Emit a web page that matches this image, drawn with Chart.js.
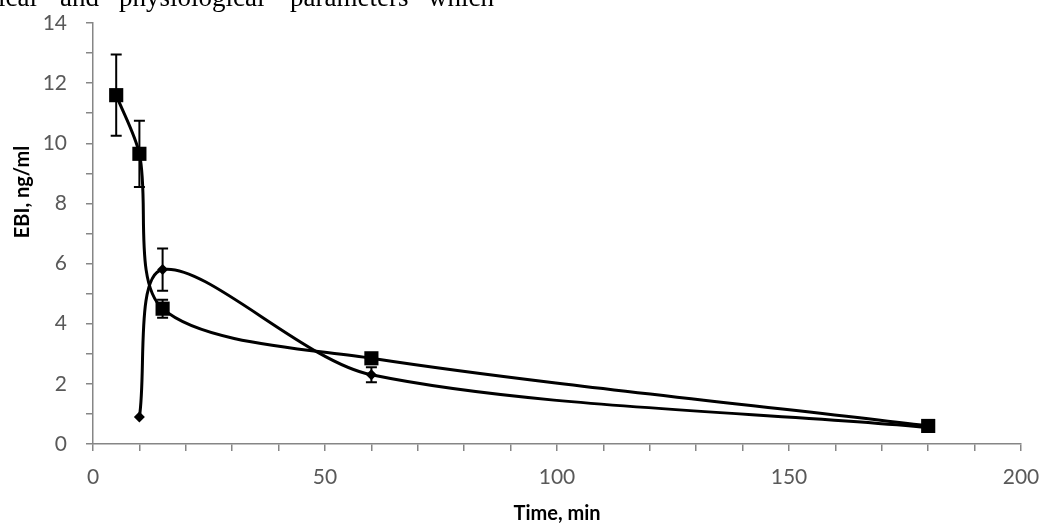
<!DOCTYPE html>
<html>
<head>
<meta charset="utf-8">
<script src="https://cdn.jsdelivr.net/npm/chart.js@4.4.1/dist/chart.umd.min.js"></script>
<style>
    html, body { margin: 0; padding: 0; background: #fff; overflow: hidden; }
    #wrap { position: relative; width: 1047px; height: 526px; }
    #pkChart { position: absolute; left: 0; top: 0; }
    #cut { position: absolute; left: 0; top: -16px; font: 27px "Liberation Serif", serif; color: #000; line-height: 1; }
    #cut span { position: absolute; top: 0; white-space: nowrap; }
</style>
</head>
<body>
<div id="wrap">
    <canvas id="pkChart" width="1047" height="526"></canvas>
    <div id="cut">
        <span style="left:-2px">ical</span>
        <span style="left:60px">and</span>
        <span style="left:119px">physiological</span>
        <span style="left:290px">parameters</span>
        <span style="left:428px">which</span>
    </div>
</div>
<script>
    var xTitle = 'Time, min';
    var yTitle = 'EBI, ng/ml';

    // series 1 (squares)
    var squareTimes = [5, 10, 15, 60, 180];
    var squareVals = [11.6, 9.65, 4.5, 2.85, 0.6];
    var squareErr = [1.35, 1.1, 0.3, 0.15, 0.05];

    // series 2 (diamonds)
    var diamondTimes = [10, 15, 60, 180];
    var diamondVals = [0.9, 5.8, 2.3, 0.55];
    var diamondErr = [0, 0.7, 0.25, 0.05];

    var xMin = 0, xMax = 200, xStep = 10, xLabelEvery = 50;
    var yMin = 0, yMax = 14, yStep = 1, yLabelEvery = 2;

    function toPoints(xs, ys) {
        var pts = [];
        for (var i = 0; i < xs.length; i++) {
            pts.push({ x: xs[i], y: ys[i] });
        }
        return pts;
    }

    var errorBars = {
        id: 'errorBars',
        afterDatasetsDraw: function(chart) {
            var ctx = chart.ctx;
            var yScale = chart.scales.y;
            ctx.save();
            ctx.strokeStyle = '#000';
            ctx.lineWidth = 2;
            chart.data.datasets.forEach(function(ds, i) {
                var meta = chart.getDatasetMeta(i);
                meta.data.forEach(function(pt, j) {
                    var e = ds.errors[j];
                    if (!e) return;
                    var v = ds.data[j].y;
                    var top = yScale.getPixelForValue(v + e);
                    var bot = yScale.getPixelForValue(v - e);
                    ctx.beginPath();
                    ctx.moveTo(pt.x, top); ctx.lineTo(pt.x, bot);
                    ctx.moveTo(pt.x - 5.5, top); ctx.lineTo(pt.x + 5.5, top);
                    ctx.moveTo(pt.x - 5.5, bot); ctx.lineTo(pt.x + 5.5, bot);
                    ctx.stroke();
                });
            });
            ctx.restore();
        }
    };

    var yTitlePlugin = {
        id: 'yTitle',
        afterDraw: function(chart) {
            var ctx = chart.ctx;
            ctx.save();
            ctx.translate(23, 192);
            ctx.rotate(-Math.PI / 2);
            ctx.font = 'bold 20px Lato';
            ctx.fillStyle = '#000';
            ctx.textAlign = 'center';
            ctx.textBaseline = 'middle';
            ctx.fillText(yTitle, 0, 0);
            ctx.restore();
        }
    };

    var ctx = document.getElementById('pkChart').getContext('2d');
    var pkChart = new Chart(ctx, {
        type: 'line',
        data: {
            datasets: [{
                label: 'squares',
                data: toPoints(squareTimes, squareVals),
                errors: squareErr,
                borderColor: '#000',
                backgroundColor: '#000',
                borderWidth: 3,
                tension: 0.3,
                pointStyle: 'rect',
                pointRadius: 10,
                pointBorderWidth: 0
            }, {
                label: 'diamonds',
                data: toPoints(diamondTimes, diamondVals),
                errors: diamondErr,
                borderColor: '#000',
                backgroundColor: '#000',
                borderWidth: 3,
                tension: 0.3,
                pointStyle: 'rectRot',
                pointRadius: 5.5,
                pointBorderWidth: 0
            }]
        },
        options: {
            responsive: false,
            animation: false,
            devicePixelRatio: 1,
            layout: { padding: { left: 0, right: 26, top: 23, bottom: 0 } },
            scales: {
                x: {
                    type: 'linear',
                    min: xMin,
                    max: xMax,
                    afterFit: function(s) { s.height = 82; s.paddingLeft = 0; s.paddingRight = 0; },
                    ticks: {
                        stepSize: xStep,
                        autoSkip: false,
                        maxRotation: 0,
                        padding: 14,
                        color: '#595959',
                        font: { family: 'Lato', size: 21 },
                        callback: function(v) { return v % xLabelEvery === 0 ? v : ''; }
                    },
                    grid: { drawOnChartArea: false, tickLength: 7, color: '#868686', lineWidth: 1.5 },
                    border: { color: '#868686', width: 1.5 },
                    title: {
                        display: true,
                        text: xTitle,
                        color: '#000',
                        padding: { top: 0, bottom: 0 },
                        font: { family: 'Lato', size: 20, weight: 'bold' }
                    }
                },
                y: {
                    min: yMin,
                    max: yMax,
                    afterFit: function(s) { s.width = 93; s.paddingTop = 0; s.paddingBottom = 0; },
                    ticks: {
                        stepSize: yStep,
                        autoSkip: false,
                        padding: 19,
                        color: '#595959',
                        font: { family: 'Lato', size: 21 },
                        callback: function(v) { return v % yLabelEvery === 0 ? v : ''; }
                    },
                    grid: { drawOnChartArea: false, tickLength: 7, color: '#868686', lineWidth: 1.5 },
                    border: { color: '#868686', width: 1.5 }
                }
            },
            plugins: {
                legend: { display: false },
                tooltip: { enabled: false }
            }
        },
        plugins: [errorBars, yTitlePlugin]
    });
</script>
</body>
</html>
